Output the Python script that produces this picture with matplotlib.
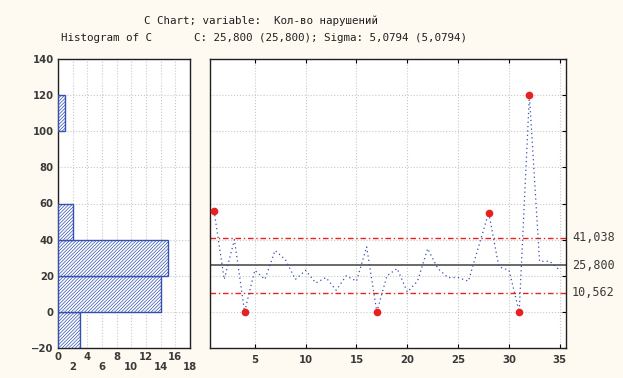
import numpy as np
import matplotlib
matplotlib.use("Agg")
import matplotlib.pyplot as plt
import matplotlib.transforms as mtransforms

# counts per sample
samples = np.arange(1, 36)
counts = [56, 18, 40, 0, 23, 18, 34, 29, 18, 23, 16, 19, 12, 20, 17, 36, 0, 20,
          24, 11, 17, 35, 24, 19, 19, 17, 36, 55, 25, 23, 0, 120, 28, 28, 23]
c_bar = 25.8
bin_edges = [-20, 0, 20, 40, 60, 80, 100, 120]
hist_xticks = list(range(0, 19, 2))
y_ticks = list(range(-20, 141, 20))
x_ticks = [5, 10, 15, 20, 25, 30, 35]

sigma = np.sqrt(c_bar)
ucl = c_bar + 3 * sigma
lcl = c_bar - 3 * sigma

counts = np.array(counts, dtype=float)
# histogram bins are right-inclusive (zeros fall into -20..0)
idx = np.digitize(counts, bin_edges, right=True) - 1
hist = np.bincount(idx, minlength=len(bin_edges) - 1)
nz = hist > 0

bg = "#FEFAF1"
blue = "#3550B0"
red = "#E82020"
txt = "#3a3a3a"
plt.rcParams["hatch.color"] = "#5068C0"
plt.rcParams["hatch.linewidth"] = 0.5

fig = plt.figure(figsize=(6.23, 3.78), dpi=100, facecolor=bg)
ax1 = fig.add_axes([58 / 623, 1 - 348 / 378, 132 / 623, 289 / 378])
ax2 = fig.add_axes([210 / 623, 1 - 348 / 378, 356 / 623, 289 / 378])

grid_kw = dict(color="#c8c8c8", linestyle=":", linewidth=0.8)

# histogram
ax1.barh(np.array(bin_edges[:-1])[nz], hist[nz], height=20, align="edge",
         color="white", edgecolor=blue, hatch="//////////", linewidth=1, zorder=3)
ax1.set_xlim(0, 18)
ax1.set_ylim(-20, 140)
ax1.set_xticks(hist_xticks)
ax1.set_xticklabels([str(t) if i % 2 == 0 else "\n" + str(t)
                     for i, t in enumerate(hist_xticks)])
ax1.set_yticks(y_ticks)
ax1.grid(True, **grid_kw)
ax1.set_axisbelow(True)
ax1.tick_params(length=0, labelsize=7.3, labelcolor=txt, pad=3)
for lab in ax1.get_xticklabels() + ax1.get_yticklabels():
    lab.set_fontweight("bold")
    lab.set_linespacing(1.0)

# control chart
ax2.plot(samples, counts, color=blue, linestyle=(0, (1, 2.5)), linewidth=0.9, zorder=3)
out = (counts > ucl) | (counts < lcl)
ax2.plot(samples[out], counts[out], "o", color=red, markersize=4.5, zorder=4)
ax2.axhline(c_bar, color="#505050", linewidth=1.2, zorder=2)
ax2.axhline(ucl, color=red, linestyle=(0, (4, 2, 1, 2)), linewidth=1, zorder=2)
ax2.axhline(lcl, color=red, linestyle=(0, (4, 2, 1, 2)), linewidth=1, zorder=2)
ax2.set_xlim(0.6, 35.6)
ax2.set_ylim(-20, 140)
ax2.set_xticks(x_ticks)
ax2.set_yticks(y_ticks)
ax2.grid(True, **grid_kw)
ax2.set_axisbelow(True)
ax2.tick_params(axis="y", left=False, labelleft=False, right=True, direction="in", length=3)
ax2.tick_params(axis="x", top=True, direction="in", length=3, labelsize=7.3,
                labelcolor=txt, pad=5)
for lab in ax2.get_xticklabels():
    lab.set_fontweight("bold")

trans = mtransforms.blended_transform_factory(fig.transFigure, ax2.transData)
for v in (ucl, c_bar, lcl):
    fig.text(572 / 623, v, f"{v:.3f}".replace(".", ","), transform=trans,
             family="DejaVu Sans Mono", fontsize=8.5, color=txt, va="center")

for ax in (ax1, ax2):
    for s in ax.spines.values():
        s.set_color("#202020")
        s.set_linewidth(1)

mono = dict(family="DejaVu Sans Mono", fontsize=7.8, color="#202020")
fig.text(144 / 623, 1 - 21 / 378, "C Chart; variable:  Кол-во нарушений",
         va="center", **mono)
fig.text(61 / 623, 1 - 38 / 378, "Histogram of C", va="center", **mono)
fig.text(194 / 623, 1 - 38 / 378,
         f"C: {c_bar:.3f} ({c_bar:.3f}); Sigma: {sigma:.4f} ({sigma:.4f})".replace(".", ","),
         va="center", **mono)

fig.savefig("out.png", dpi=100, facecolor=bg)
